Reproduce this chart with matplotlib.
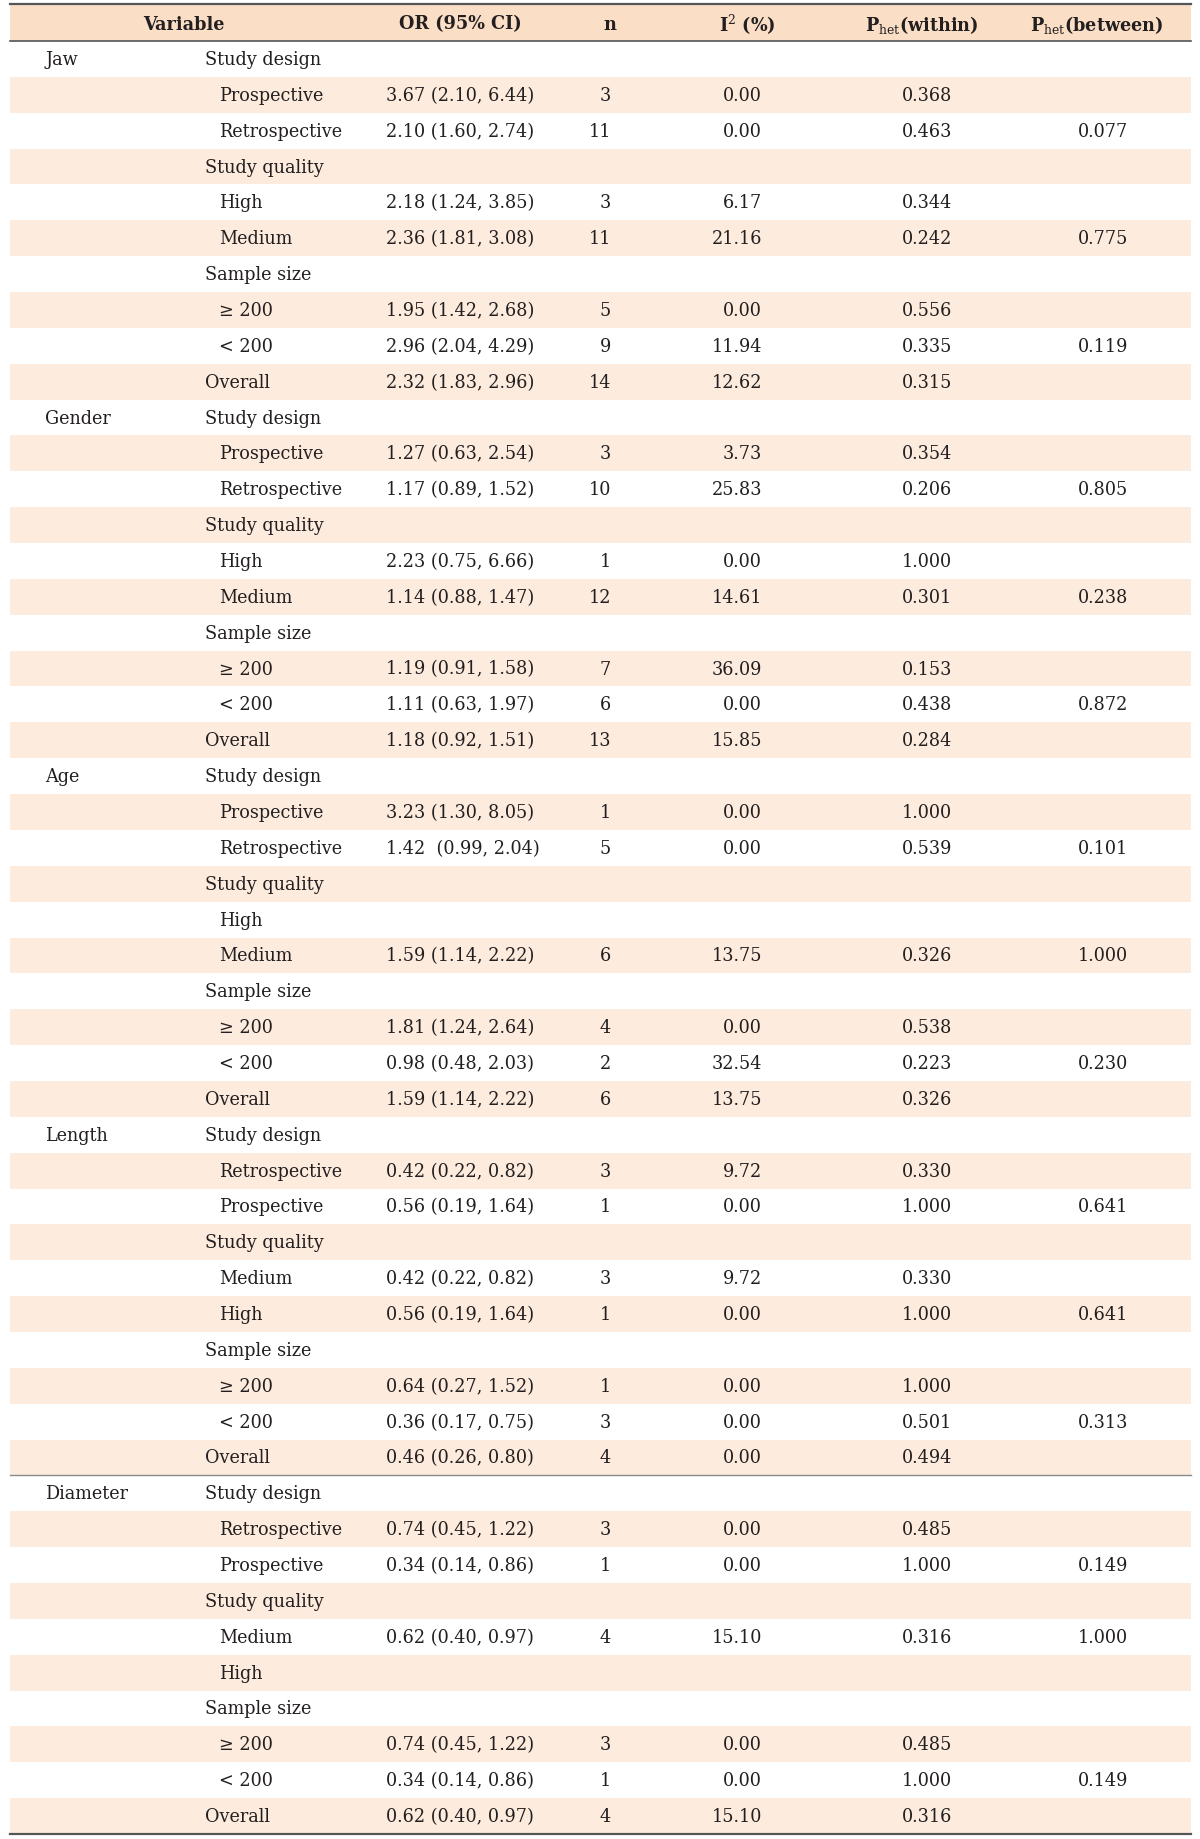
import matplotlib
matplotlib.use('Agg')
from matplotlib import pyplot as plt

plt.rcParams['font.family'] = ['DejaVu Serif']
plt.rcParams['mathtext.fontset'] = 'dejavuserif'

# 表格数据
groups = ['Jaw', 'Gender', 'Age', 'Length', 'Diameter']

labels = [
    ['Study design', 'Prospective', 'Retrospective', 'Study quality', 'High', 'Medium',
     'Sample size', '≥ 200', '< 200', 'Overall'],
    ['Study design', 'Prospective', 'Retrospective', 'Study quality', 'High', 'Medium',
     'Sample size', '≥ 200', '< 200', 'Overall'],
    ['Study design', 'Prospective', 'Retrospective', 'Study quality', 'High', 'Medium',
     'Sample size', '≥ 200', '< 200', 'Overall'],
    ['Study design', 'Retrospective', 'Prospective', 'Study quality', 'Medium', 'High',
     'Sample size', '≥ 200', '< 200', 'Overall'],
    ['Study design', 'Retrospective', 'Prospective', 'Study quality', 'Medium', 'High',
     'Sample size', '≥ 200', '< 200', 'Overall'],
]
# 0 = 小标题 / Overall, 1 = 缩进条目
levels = [0, 1, 1, 0, 1, 1, 0, 1, 1, 0]

or_ci = [
    ['', '3.67 (2.10, 6.44)', '2.10 (1.60, 2.74)', '', '2.18 (1.24, 3.85)', '2.36 (1.81, 3.08)',
     '', '1.95 (1.42, 2.68)', '2.96 (2.04, 4.29)', '2.32 (1.83, 2.96)'],
    ['', '1.27 (0.63, 2.54)', '1.17 (0.89, 1.52)', '', '2.23 (0.75, 6.66)', '1.14 (0.88, 1.47)',
     '', '1.19 (0.91, 1.58)', '1.11 (0.63, 1.97)', '1.18 (0.92, 1.51)'],
    ['', '3.23 (1.30, 8.05)', '1.42  (0.99, 2.04)', '', '', '1.59 (1.14, 2.22)',
     '', '1.81 (1.24, 2.64)', '0.98 (0.48, 2.03)', '1.59 (1.14, 2.22)'],
    ['', '0.42 (0.22, 0.82)', '0.56 (0.19, 1.64)', '', '0.42 (0.22, 0.82)', '0.56 (0.19, 1.64)',
     '', '0.64 (0.27, 1.52)', '0.36 (0.17, 0.75)', '0.46 (0.26, 0.80)'],
    ['', '0.74 (0.45, 1.22)', '0.34 (0.14, 0.86)', '', '0.62 (0.40, 0.97)', '',
     '', '0.74 (0.45, 1.22)', '0.34 (0.14, 0.86)', '0.62 (0.40, 0.97)'],
]
n_vals = [
    ['', '3', '11', '', '3', '11', '', '5', '9', '14'],
    ['', '3', '10', '', '1', '12', '', '7', '6', '13'],
    ['', '1', '5', '', '', '6', '', '4', '2', '6'],
    ['', '3', '1', '', '3', '1', '', '1', '3', '4'],
    ['', '3', '1', '', '4', '', '', '3', '1', '4'],
]
i2_vals = [
    ['', '0.00', '0.00', '', '6.17', '21.16', '', '0.00', '11.94', '12.62'],
    ['', '3.73', '25.83', '', '0.00', '14.61', '', '36.09', '0.00', '15.85'],
    ['', '0.00', '0.00', '', '', '13.75', '', '0.00', '32.54', '13.75'],
    ['', '9.72', '0.00', '', '9.72', '0.00', '', '0.00', '0.00', '0.00'],
    ['', '0.00', '0.00', '', '15.10', '', '', '0.00', '0.00', '15.10'],
]
p_within = [
    ['', '0.368', '0.463', '', '0.344', '0.242', '', '0.556', '0.335', '0.315'],
    ['', '0.354', '0.206', '', '1.000', '0.301', '', '0.153', '0.438', '0.284'],
    ['', '1.000', '0.539', '', '', '0.326', '', '0.538', '0.223', '0.326'],
    ['', '0.330', '1.000', '', '0.330', '1.000', '', '1.000', '0.501', '0.494'],
    ['', '0.485', '1.000', '', '0.316', '', '', '0.485', '1.000', '0.316'],
]
p_between = [
    ['', '', '0.077', '', '', '0.775', '', '', '0.119', ''],
    ['', '', '0.805', '', '', '0.238', '', '', '0.872', ''],
    ['', '', '0.101', '', '', '1.000', '', '', '0.230', ''],
    ['', '', '0.641', '', '', '0.641', '', '', '0.313', ''],
    ['', '', '0.149', '', '1.000', '', '', '', '0.149', ''],
]

W, H = 1200, 1840
fig = plt.figure(figsize=(12, 18.4), dpi=100)
ax = fig.add_axes([0, 0, 1, 1])
ax.set_xlim(0, W)
ax.set_ylim(H, 0)
ax.axis('off')

txt_c = '#231f20'
shade = '#fdecdd'
head_c = '#fbdec6'
fs = 12.7

x0, x1 = 10, 1191
top, head_bot = 5, 42
row_h = 35.86

# 表头
ax.fill_between([x0, x1], top, head_bot, color=head_c, lw=0)
ax.plot([x0, x1], [top, top], color='#555555', lw=1.6)
ax.plot([x0, x1], [head_bot, head_bot], color='#555555', lw=1.2)
hy = (top + head_bot) / 2 + 1
hkw = dict(fontsize=fs, fontweight='bold', color=txt_c, va='center', ha='center')
ax.text(184, hy, 'Variable', **hkw)
ax.text(460, hy, 'OR (95% CI)', **hkw)
ax.text(610, hy, 'n', **hkw)
ax.text(747, hy, r'$\mathbf{I}^{2}$ (%)', **hkw)
ax.text(922, hy, r'$\mathbf{P}_{\mathrm{het}}$(within)', **hkw)
ax.text(1097, hy, r'$\mathbf{P}_{\mathrm{het}}$(between)', **hkw)

kw = dict(fontsize=fs, color=txt_c, va='center')
i = 0
for g, grp in enumerate(groups):
    for j in range(len(labels[g])):
        y0 = head_bot + i * row_h
        yc = y0 + row_h / 2
        if i % 2 == 1:
            ax.fill_between([x0, x1], y0, y0 + row_h, color=shade, lw=0)
        if j == 0:
            ax.text(45, yc, grp, ha='left', **kw)
        lx = 219 if levels[j] == 1 else 205
        ax.text(lx, yc, labels[g][j], ha='left', **kw)
        ax.text(386, yc, or_ci[g][j], ha='left', **kw)
        ax.text(611, yc, n_vals[g][j], ha='right', **kw)
        ax.text(762, yc, i2_vals[g][j], ha='right', **kw)
        ax.text(927, yc, p_within[g][j], ha='center', **kw)
        ax.text(1103, yc, p_between[g][j], ha='center', **kw)
        i += 1
    # Length 与 Diameter 之间的分隔线
    if grp == 'Length':
        ysep = head_bot + i * row_h
        ax.plot([x0, x1], [ysep, ysep], color='#8a8a8a', lw=1.0)

ybot = head_bot + i * row_h
ax.plot([x0, x1], [ybot, ybot], color='#555555', lw=1.6)

fig.savefig('out.png', dpi=100, facecolor='white')
